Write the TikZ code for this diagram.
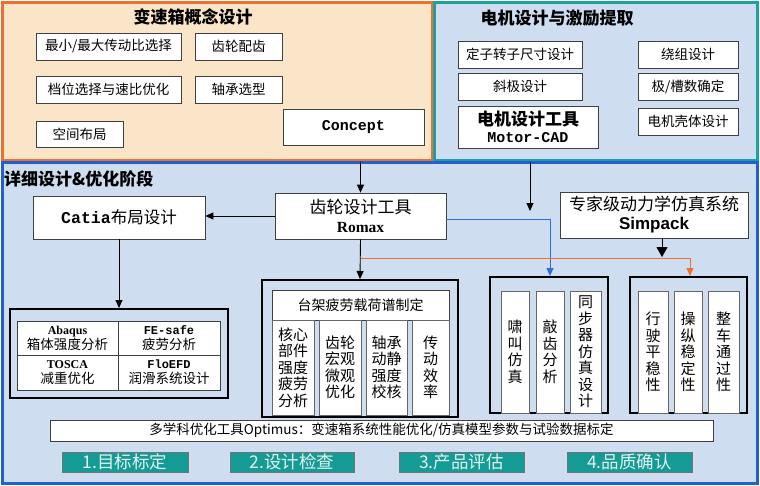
\documentclass[tikz,border=0pt]{standalone}
\usepackage{fontspec}
\setmainfont{Noto Sans CJK SC}
\newfontfamily\monof{Liberation Mono}
\newfontfamily\serf{Liberation Serif}
\newfontfamily\sanf{Liberation Sans}
\usetikzlibrary{arrows.meta}
\definecolor{peach}{RGB}{251,229,200}
\definecolor{orangeB}{RGB}{237,112,46}
\definecolor{lblue}{RGB}{206,221,240}
\definecolor{tealB}{RGB}{30,160,160}
\definecolor{blueB}{RGB}{32,96,208}
\definecolor{lineblue}{RGB}{46,110,216}
\definecolor{lineor}{RGB}{237,112,46}
\definecolor{btnfill}{RGB}{20,155,150}
\definecolor{btntext}{RGB}{228,242,242}
\newcommand\bnode[7][]{\node[bx,#1,minimum width=#5pt-#3pt,minimum height=#6pt-#4pt] (#2) at ({(#3+#5)/2},{(#4+#6)/2}) {#7};}
\begin{document}
\begin{tikzpicture}[x=1pt,y=-1pt,
 bx/.style={draw=black!75,line width=0.8pt,fill=white,inner sep=0pt,align=center,font=\fontsize{13.5}{16}\selectfont},
 panel/.style={line width=3pt},
 toolbox/.style={draw=black,line width=2pt,fill=lblue},
 col/.style={draw=black!60,line width=1pt,font=\fontsize{15}{16.5}\selectfont},
 ttl/.style={inner sep=0pt,font=\bfseries\fontsize{17}{20}\selectfont},
 btn/.style={draw=black!55,line width=0.8pt,fill=btnfill,text=btntext,font=\fontsize{17.5}{20}\selectfont},
 arr/.style={line width=0.9pt,-{Triangle[length=8pt,width=7pt]}},
 bigarr/.style={line width=0.9pt,-{Triangle[length=10pt,width=11pt]}},
 bluearr/.style={line width=0.9pt,draw=lineblue,-{Triangle[length=8pt,width=7pt,fill=lineblue]}},
 orarr/.style={line width=0.9pt,draw=lineor,-{Triangle[length=8pt,width=7pt,fill=lineor]}}
]
\useasboundingbox (0,0) rectangle (760,485);
% panels
\bnode[panel,draw=orangeB,fill=peach]{pA}{2}{2}{432}{160}{}
\bnode[panel,draw=tealB,fill=lblue]{pB}{434}{2}{757}{160}{}
\bnode[panel,draw=blueB,fill=lblue]{pC}{2}{162}{757}{483}{}
% titles
\node[ttl] (tA) at (193,17) {变速箱概念设计};
\node[ttl] (tB) at (557,18) {电机设计与激励提取};
\node[ttl,anchor=west] (tC) at (4,179) {详细设计\&优化阶段};
% concept panel
\bnode{a1}{36}{33}{181}{60}{最小/最大传动比选择}
\bnode{a2}{195}{33}{282}{60}{齿轮配齿}
\bnode{a3}{36}{76}{181}{103}{档位选择与速比优化}
\bnode{a4}{195}{76}{282}{103}{轴承选型}
\bnode{a5}{36}{121}{123}{147}{空间布局}
\bnode{a6}{283}{109}{424}{145}{\monof\bfseries\fontsize{15}{18}\selectfont Concept}
% motor panel
\bnode{b1}{458}{41}{582}{68}{定子转子尺寸设计}
\bnode{b2}{458}{73}{582}{100}{斜极设计}
\bnode{b3}{458}{106}{598}{148}{{\bfseries\fontsize{17}{19}\selectfont 电机设计工具}\\[1pt]{\monof\bfseries\fontsize{15}{18}\selectfont Motor-CAD}}
\bnode{b4}{638}{41}{738}{68}{绕组设计}
\bnode{b5}{638}{73}{738}{100}{极/槽数确定}
\bnode{b6}{638}{108}{738}{135}{电机壳体设计}
% detail panel tools
\bnode{catia}{33}{196}{205}{239}{\fontsize{16.5}{19}\selectfont{\monof\bfseries Catia}布局设计}
\bnode{romax}{275}{193}{446}{239}{{\fontsize{17}{19}\selectfont 齿轮设计工具}\\[3pt]{\serf\bfseries\fontsize{15.5}{18}\selectfont Romax}}
\bnode{simp}{560}{192}{748}{238}{{\fontsize{17}{19}\selectfont 专家级动力学仿真系统}\\[3pt]{\sanf\bfseries\fontsize{17}{20}\selectfont Simpack}}
% abaqus group
\bnode[toolbox]{abq}{10}{309}{228}{398}{}
\bnode[font=\fontsize{13.5}{15}\selectfont]{q1}{17}{321}{118}{355}{{\serf\bfseries\fontsize{12}{13}\selectfont Abaqus}\\箱体强度分析}
\bnode[font=\fontsize{13.5}{15}\selectfont]{q2}{118}{321}{220}{355}{{\monof\bfseries\fontsize{12}{13}\selectfont FE-safe}\\疲劳分析}
\bnode[font=\fontsize{13.5}{15}\selectfont]{q3}{17}{355}{118}{390}{{\serf\bfseries\fontsize{12}{13}\selectfont TOSCA}\\减重优化}
\bnode[font=\fontsize{13.5}{15}\selectfont]{q4}{118}{355}{220}{390}{{\monof\bfseries\fontsize{12}{13}\selectfont FloEFD}\\润滑系统设计}
% fatigue group
\bnode[toolbox]{fat}{262}{280}{458}{417}{}
\bnode[font=\fontsize{14}{16}\selectfont]{f0}{272}{290}{449}{320}{台架疲劳载荷谱制定}
\bnode[col]{f1}{272}{320}{314}{415}{核心\\部件\\强度\\疲劳\\分析}
\bnode[col]{f2}{319}{320}{361}{415}{齿轮\\宏观\\微观\\优化}
\bnode[col]{f3}{366}{320}{407}{415}{轴承\\动静\\强度\\校核}
\bnode[col]{f4}{412}{320}{449}{415}{传\\动\\效\\率}
% NVH group
\bnode[toolbox]{mid}{490}{277}{608}{413}{}
\bnode[col]{m1}{501}{291}{529}{413}{啸\\叫\\仿\\真}
\bnode[col]{m2}{536}{291}{564}{413}{敲\\齿\\分\\析}
\bnode[col]{m3}{570}{291}{601}{413}{同\\步\\器\\仿\\真\\设\\计}
% vehicle group
\bnode[toolbox]{rt}{630}{277}{747}{413}{}
\bnode[col]{r1}{638}{291}{668}{413}{行\\驶\\平\\稳\\性}
\bnode[col]{r2}{674}{291}{702}{413}{操\\纵\\稳\\定\\性}
\bnode[col]{r3}{708}{291}{739}{413}{整\\车\\通\\过\\性}
% optimus
\bnode[font=\fontsize{13.5}{16}\selectfont]{opt}{50}{420}{713}{441}{多学科优化工具Optimus：变速箱系统性能优化/仿真模型参数与试验数据标定}
% buttons
\bnode[btn]{g1}{62}{452}{188}{472}{1.目标标定}
\bnode[btn]{g2}{230}{452}{354}{472}{2.设计检查}
\bnode[btn]{g3}{399}{452}{524}{472}{3.产品评估}
\bnode[btn]{g4}{567}{452}{692}{472}{4.品质确认}
% connectors
\coordinate (m2t) at (530,211);
\coordinate (bt) at (550,276);
\coordinate (o1) at (360.5,258);
\coordinate (ot) at (690,276);
\coordinate (st) at (662,257);
\draw[arr] (pA.south -| romax.north) -- (romax.north);
\draw[arr] (pB.south -| m2t) -- (m2t);
\draw[arr] (romax.west) -- (romax.west -| catia.east);
\draw[arr] (catia.south) -- (abq.north);
\draw[arr] (romax.south) -- (fat.north);
\draw[bluearr] ([yshift=-3pt]romax.east) -| (bt);
\draw[orarr] (o1) -| (ot);
\draw[bigarr] (simp.south -| st) -- (st);
\end{tikzpicture}
\end{document}
